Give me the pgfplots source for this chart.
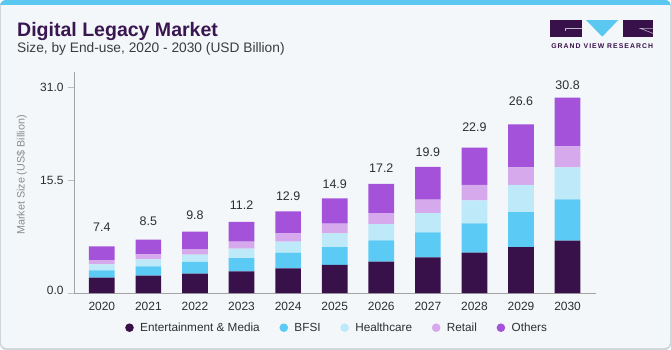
\documentclass[border=0pt]{standalone}
\usepackage{pgfplots}
\pgfplotsset{compat=1.18}
\usepackage{pgfplotstable}
\usepackage{fontspec}
\setmainfont{Liberation Sans}
\definecolor{cem}{HTML}{38104A}
\definecolor{cbfsi}{HTML}{5BCBF5}
\definecolor{chealth}{HTML}{BDE9F8}
\definecolor{cretail}{HTML}{D6A8EC}
\definecolor{cothers}{HTML}{A452D9}
\definecolor{bgcol}{HTML}{F3F7FA}
\definecolor{stripecol}{HTML}{5BC8F2}
\definecolor{bordercol}{HTML}{CFD6DB}
\definecolor{titlecol}{HTML}{3A1650}
\definecolor{subcol}{HTML}{3C3C3C}
\definecolor{labelcol}{HTML}{2E2E2E}
\definecolor{axisgray}{HTML}{A3A3A3}
\definecolor{tickgray}{HTML}{BDBDBD}
\definecolor{ylabcol}{HTML}{8C8C8C}

\pgfplotstableread{
x em bfsi health retail others
0 2.32 1.11 0.90 0.65 2.07
1 2.63 1.40 1.06 0.75 2.22
2 2.93 1.75 1.12 0.84 2.63
3 3.27 2.01 1.42 1.06 2.96
4 3.73 2.37 1.66 1.25 3.32
5 4.23 2.71 2.07 1.46 3.82
6 4.74 3.21 2.46 1.66 4.38
7 5.39 3.77 2.91 2.03 4.92
8 6.10 4.42 3.47 2.31 5.64
9 6.94 5.28 4.08 2.67 6.49
10 7.91 6.23 4.83 3.17 7.35
}\data

\begin{document}
\begin{tikzpicture}
\useasboundingbox (0,0) rectangle (671bp,-350bp);
\fill[bordercol, rounded corners=6bp] (0,0) rectangle (671bp,-350bp);
\fill[bgcol, rounded corners=5bp] (1bp,-1bp) rectangle (670bp,-348bp);
\begin{scope}
\clip[rounded corners=6bp] (0,0) rectangle (671bp,-350bp);
\fill[stripecol] (0,0) rectangle (671bp,-4.5bp);
\end{scope}

% title
\node[anchor=base west, inner sep=0pt, text=titlecol, font=\fontsize{19.6}{22}\selectfont\bfseries] at (17bp,-36bp) {Digital Legacy Market};
\node[anchor=base west, inner sep=0pt, text=subcol, font=\fontsize{13.8}{16}\selectfont] at (17bp,-52.7bp) {Size, by End-use, 2020 - 2030 (USD Billion)};

% logo
\fill[cem] (550bp,-20bp) rectangle (582.3bp,-36.7bp);
\fill[stripecol] (586bp,-20bp) -- (618.3bp,-20bp) -- (602.2bp,-36.7bp) -- cycle;
\fill[cem] (622.7bp,-20bp) rectangle (653.3bp,-36.7bp);
\draw[white!70!cem, line width=0.6bp] (565bp,-30.5bp) -- (565bp,-28.3bp) -- (582.3bp,-28.3bp);
\draw[white!70!cem, line width=0.6bp] (653.3bp,-28.3bp) -- (640bp,-28.3bp) -- (653.3bp,-33.5bp);
\node[anchor=center, inner sep=0pt, text=cem, font=\fontsize{6.9}{7}\selectfont\bfseries\addfontfeatures{LetterSpace=15}] at (602.2bp,-46bp) {GRAND VIEW RESEARCH};

\begin{axis}[
  at={(74bp,-293bp)}, anchor=south west,
  scale only axis, width=522bp, height=221bp,
  ybar stacked, bar width=25.7bp,
  xmin=-0.597, xmax=10.61, ymin=0, ymax=33.35,
  axis x line*=bottom, axis y line*=left,
  axis line style={draw=axisgray, line width=0.8bp},
  xtick={0,1,2,3,4,5,6,7,8,9,10},
  xticklabels={2020,2021,2022,2023,2024,2025,2026,2027,2028,2029,2030},
  x tick style={draw=none},
  ytick={0,16.95,31},
  yticklabels={\raisebox{4.5bp}{0.0},15.5,31.0},
  y tick style={draw=tickgray, line width=0.8bp},
  tick align=outside, major tick length=6bp,
  tick label style={font=\fontsize{12}{14}\selectfont, text=labelcol},
  yticklabel style={xshift=-1bp},
  /pgf/number format/assume math mode=true,
  ylabel={Market Size (US\$ Billion)},
  every axis y label/.style={at={(axis description cs:-0.1002,0.534)}, rotate=90, anchor=center, font=\fontsize{10.8}{12}\selectfont, text=ylabcol},
  legend columns=5,
  legend image code/.code={\fill[#1] (4.3bp,0bp) circle (4.3bp);},
  legend style={at={(axis description cs:0.0977,-0.157)}, anchor=west, draw=none, fill=none, inner sep=0pt,
    nodes={inner sep=0pt, text=labelcol, font=\fontsize{11.8}{13}\selectfont},
    /tikz/every odd column/.append style={column sep=6.4bp},
    /tikz/every even column/.append style={column sep=19.7bp}},
]
\addplot[fill=cem, draw=none] table[x=x, y=em] {\data};
\addplot[fill=cbfsi, draw=none] table[x=x, y=bfsi] {\data};
\addplot[fill=chealth, draw=none] table[x=x, y=health] {\data};
\addplot[fill=cretail, draw=none] table[x=x, y=retail] {\data};
\addplot[fill=cothers, draw=none] table[x=x, y=others] {\data};
\legend{Entertainment \& Media, BFSI, Healthcare, Retail, Others}
\end{axis}

\begin{axis}[
  at={(74bp,-293bp)}, anchor=south west,
  scale only axis, width=522bp, height=221bp,
  xmin=-0.597, xmax=10.61, ymin=0, ymax=33.35,
  hide axis, clip=false,
]
\addplot[draw=none, nodes near coords, point meta=explicit symbolic,
  every node near coord/.append style={anchor=center, inner sep=0pt, font=\fontsize{12.5}{14}\selectfont, text=labelcol}]
  coordinates {(0,9.90)[7.4] (1,10.87)[8.5] (2,11.73)[9.8] (3,13.24)[11.2] (4,14.64)[12.9] (5,16.45)[14.9] (6,18.77)[17.2] (7,21.28)[19.9] (8,25.05)[22.9] (9,28.98)[26.6] (10,31.33)[30.8]};
\end{axis}
\end{tikzpicture}
\end{document}
